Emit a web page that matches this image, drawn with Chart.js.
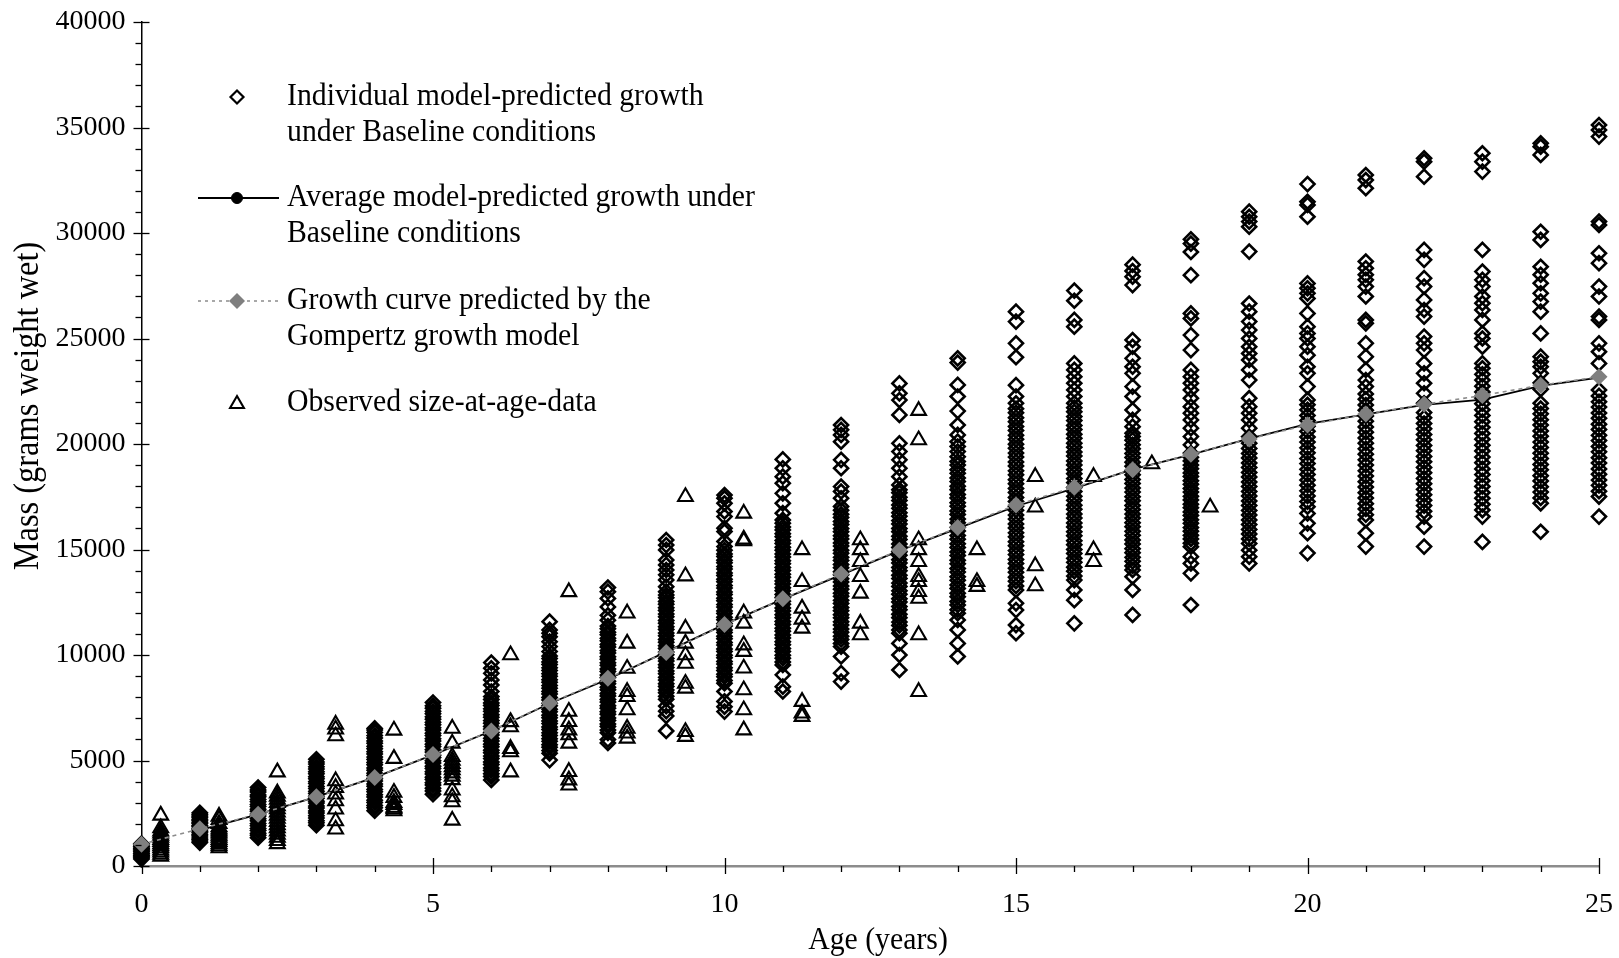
<!DOCTYPE html>
<html>
<head>
<meta charset="utf-8">
<title>Model-predicted growth and observed size-at-age</title>
<script src="https://cdn.jsdelivr.net/npm/chart.js@4.4.1/dist/chart.umd.min.js"></script>
<style>
  html, body { margin: 0; padding: 0; background: #fff; }
  canvas { display: block; }
</style>
</head>
<body>
<canvas id="growthChart" width="1619" height="958"></canvas>
<script>
// ages of the model output (years)
const ages = [0, 1, 2, 3, 4, 5, 6, 7, 8, 9, 10, 11, 12, 13, 14, 15, 16, 17, 18, 19, 20, 21, 22, 23, 24, 25];

// average model-predicted growth (starts at age 1)
const averageAges = [1, 2, 3, 4, 5, 6, 7, 8, 9, 10, 11, 12, 13, 14, 15, 16, 17, 18, 19, 20, 21, 22, 23, 24, 25];
const averageMass = [1700, 2450, 3280, 4200, 5270, 6400, 7700, 8850, 10150, 11450, 12650, 13800, 14950, 16000,
  17050, 17900, 18800, 19500, 20250, 20950, 21400, 21850, 22100, 22750, 23150];

// Gompertz growth curve
const gompertzMass = [1030, 1760, 2450, 3280, 4200, 5280, 6400, 7720, 8900, 10120, 11440, 12660, 13840, 14960,
  16040, 17110, 17950, 18780, 19520, 20240, 20900, 21420, 21880, 22300, 22780, 23190];

// individual model-predicted masses, one list per age in `ages`
const individualMass = [
  [330, 390, 460, 500, 570, 610, 680, 720, 790, 830, 900, 940, 1010, 1060],
  [1110, 1180, 1260, 1330, 1420, 1480, 1570, 1630, 1710, 1780, 1860, 1920, 2010, 2070, 2150, 2220, 2310, 2370, 2450, 2520],
  [1340, 1460, 1550, 1680, 1780, 1910, 2010, 2140, 2240, 2370, 2460, 2600, 2690, 2820, 2920, 3050, 3150, 3280, 3370, 3510, 3600, 3720],
  [1930, 2050, 2150, 2280, 2380, 2510, 2610, 2750, 2840, 2980, 3070, 3210, 3310, 3440, 3540, 3670, 3770, 3910, 4000, 4140,
    4230, 4370, 4470, 4600, 4700, 4830, 4930, 5060],
  [2620, 2760, 2870, 3010, 3120, 3270, 3380, 3520, 3630, 3780, 3890, 4030, 4140, 4290, 4400, 4540, 4650, 4800, 4910, 5050,
    5160, 5310, 5420, 5560, 5670, 5820, 5930, 6070, 6180, 6330, 6440, 6520],
  [3400, 3560, 3690, 3840, 3950, 4100, 4210, 4360, 4470, 4620, 4730, 4880, 4990, 5140, 5250, 5400, 5510, 5660, 5770, 5920,
    6030, 6180, 6290, 6440, 6550, 6700, 6810, 6960, 7070, 7220, 7330, 7480, 7590, 7750],
  [4080, 4240, 4370, 4530, 4650, 4810, 4930, 5090, 5210, 5370, 5490, 5650, 5770, 5930, 6050, 6210, 6330, 6490, 6610, 6770,
    6890, 7050, 7170, 7330, 7450, 7610, 7730, 7890, 8030, 8270, 8580, 8820, 9130, 9370, 9640],
  [5020, 5340, 5470, 5630, 5750, 5910, 6030, 6190, 6310, 6470, 6590, 6750, 6870, 7030, 7150, 7310, 7430, 7590, 7710, 7870,
    7990, 8150, 8270, 8430, 8550, 8710, 8830, 8990, 9110, 9270, 9390, 9550, 9670, 9830, 9950, 10160, 10400, 10630, 10870,
    11030, 11190, 11580],
  [5830, 5990, 6310, 6440, 6610, 6730, 6900, 7020, 7190, 7310, 7480, 7600, 7770, 7890, 8060, 8180, 8350, 8470, 8640, 8760,
    8930, 9050, 9220, 9340, 9510, 9630, 9800, 9920, 10090, 10210, 10380, 10500, 10670, 10790, 10960, 11080, 11250, 11370,
    11650, 11880, 12280, 12680, 13000, 13200],
  [6400, 7110, 7340, 7580, 7900, 8040, 8210, 8340, 8510, 8640, 8810, 8940, 9110, 9240, 9410, 9540, 9710, 9840, 10010, 10140,
    10310, 10440, 10610, 10740, 10910, 11040, 11210, 11340, 11510, 11640, 11810, 11940, 12110, 12240, 12410, 12540, 12710,
    12840, 13000, 13240, 13560, 13800, 14030, 14270, 14500, 14980, 15210, 15450],
  [7320, 7550, 7800, 8270, 8660, 8790, 8970, 9090, 9270, 9390, 9570, 9690, 9870, 9990, 10170, 10290, 10470, 10590, 10770,
    10890, 11070, 11190, 11370, 11490, 11670, 11790, 11970, 12090, 12270, 12390, 12570, 12690, 12870, 12990, 13170, 13290,
    13470, 13590, 13770, 13890, 14070, 14190, 14370, 14490, 14670, 14790, 14970, 15140, 15380, 15850, 16010, 16560, 16800,
    17190, 17430, 17580],
  [8270, 8500, 9060, 9530, 9670, 9850, 9990, 10170, 10310, 10490, 10630, 10810, 10950, 11130, 11270, 11450, 11590, 11770,
    11910, 12090, 12230, 12410, 12550, 12730, 12870, 13050, 13190, 13370, 13510, 13690, 13830, 14010, 14150, 14330, 14470,
    14650, 14790, 14970, 15110, 15290, 15430, 15610, 15750, 15930, 16070, 16250, 16400, 16720, 17190, 17660, 18140, 18450,
    18850, 19270],
  [8740, 9140, 9930, 10400, 10550, 10740, 10890, 11080, 11230, 11420, 11570, 11760, 11910, 12100, 12250, 12440, 12590, 12780,
    12930, 13120, 13270, 13460, 13610, 13800, 13950, 14140, 14290, 14480, 14630, 14820, 14970, 15160, 15310, 15500, 15650,
    15840, 15990, 16180, 16330, 16520, 16670, 16860, 17040, 17430, 17750, 17980, 18850, 19250, 20110, 20430, 20670, 20900],
  [9290, 10000, 10550, 11030, 11190, 11400, 11560, 11770, 11930, 12140, 12300, 12510, 12670, 12880, 13040, 13250, 13410,
    13620, 13780, 13990, 14150, 14360, 14520, 14730, 14890, 15100, 15260, 15470, 15630, 15840, 16000, 16210, 16370, 16580,
    16740, 16950, 17110, 17320, 17480, 17690, 17830, 18060, 18450, 18850, 19250, 19640, 20030, 21380, 22080, 22400, 22870],
  [9930, 10550, 11190, 11660, 11980, 12150, 12370, 12540, 12760, 12930, 13150, 13320, 13540, 13710, 13930, 14100, 14320,
    14490, 14710, 14880, 15100, 15270, 15490, 15660, 15880, 16050, 16270, 16440, 16660, 16830, 17050, 17220, 17440, 17610,
    17830, 18000, 18220, 18390, 18610, 18780, 19000, 19170, 19400, 19640, 19880, 20110, 20430, 20900, 21560, 22250, 22800,
    23860, 24060],
  [11030, 11420, 12130, 12450, 13080, 13270, 13500, 13690, 13920, 14110, 14340, 14530, 14760, 14950, 15180, 15370, 15600,
    15790, 16020, 16210, 16440, 16630, 16860, 17050, 17280, 17470, 17700, 17890, 18120, 18310, 18540, 18730, 18960, 19150,
    19380, 19570, 19800, 19990, 20220, 20410, 20640, 20830, 21060, 21250, 21480, 21670, 21930, 22250, 22790, 24110, 24770,
    25800, 26270],
  [11500, 12600, 13080, 13550, 13740, 13970, 14160, 14390, 14580, 14810, 15000, 15230, 15420, 15650, 15840, 16070, 16260,
    16490, 16680, 16910, 17100, 17330, 17520, 17750, 17940, 18170, 18360, 18590, 18780, 19010, 19200, 19430, 19620, 19850,
    20040, 20270, 20460, 20690, 20880, 21110, 21300, 21530, 21720, 21930, 22250, 22560, 22880, 23190, 23510, 23820, 25560,
    25880, 26790, 27270],
  [11900, 13080, 13710, 14030, 14220, 14440, 14630, 14850, 15040, 15260, 15450, 15670, 15860, 16080, 16270, 16490, 16680,
    16900, 17090, 17310, 17500, 17720, 17910, 18130, 18320, 18540, 18730, 18950, 19140, 19360, 19550, 19770, 19960, 20180,
    20350, 20510, 20820, 21140, 21610, 22250, 22720, 23350, 23660, 24060, 24610, 24930, 27530, 27930, 28200, 28500],
  [12370, 13870, 14340, 14660, 15130, 15300, 15500, 15670, 15870, 16040, 16240, 16410, 16610, 16780, 16980, 17150, 17350,
    17520, 17720, 17890, 18090, 18260, 18460, 18630, 18830, 19000, 19200, 19370, 19570, 19960, 20350, 20750, 21140, 21460,
    21770, 22170, 22560, 22880, 23190, 23510, 24450, 25160, 25950, 26190, 28000, 29100, 29500, 29700],
  [14340, 14660, 14970, 15290, 15500, 15740, 15950, 16190, 16400, 16640, 16850, 17090, 17300, 17540, 17750, 17990, 18200,
    18440, 18650, 18890, 19100, 19340, 19550, 19790, 20040, 20350, 20750, 21140, 21460, 21770, 22170, 23030, 23510, 23980,
    24290, 24610, 25000, 25400, 25800, 26270, 26660, 29120, 30300, 30540, 30770, 31010],
  [14830, 15770, 16240, 16710, 17030, 17270, 17540, 17780, 18050, 18290, 18560, 18800, 19070, 19310, 19580, 19820, 20090,
    20330, 20600, 20840, 21110, 21350, 21620, 21860, 22090, 22720, 23350, 23660, 24210, 24610, 25000, 25240, 25560, 26190,
    26900, 27140, 27380, 27610, 30770, 31330, 31480, 32320],
  [15140, 15770, 16400, 16650, 16920, 17170, 17440, 17690, 17960, 18210, 18480, 18730, 19000, 19250, 19520, 19770, 20040,
    20290, 20560, 20810, 21080, 21330, 21600, 21850, 22120, 22370, 22720, 23030, 23510, 24140, 24770, 25720, 25880, 26990,
    27460, 27780, 28020, 28330, 28650, 32120, 32510, 32750],
  [15140, 16080, 16560, 16810, 17080, 17330, 17600, 17850, 18120, 18370, 18640, 18890, 19160, 19410, 19680, 19930, 20200,
    20450, 20720, 20970, 21240, 21490, 21930, 22400, 22880, 23350, 23820, 24450, 24770, 25090, 26040, 26350, 26830, 27460,
    27860, 28730, 29200, 32670, 33380, 33540],
  [15360, 16560, 16870, 17140, 17430, 17700, 17990, 18260, 18550, 18820, 19110, 19380, 19670, 19940, 20230, 20500, 20790,
    21060, 21350, 21620, 21910, 22180, 22470, 22740, 23030, 23300, 23590, 23820, 24610, 25000, 25240, 25880, 26350, 26670,
    26990, 27460, 27780, 28170, 29200, 32910, 33380, 33780],
  [15840, 17190, 17440, 17720, 17970, 18250, 18500, 18780, 19030, 19310, 19560, 19840, 20090, 20370, 20620, 20900, 21150,
    21430, 21680, 21930, 22600, 22900, 23350, 23660, 23900, 24140, 25240, 26270, 26750, 27140, 27620, 28020, 28400, 29670,
    30060, 33700, 34090, 34250],
  [16560, 17510, 17760, 18040, 18290, 18570, 18820, 19100, 19350, 19630, 19880, 20160, 20410, 20690, 20940, 21220, 21470,
    21750, 22000, 22280, 22560, 23820, 24370, 24770, 25880, 26040, 26990, 27460, 28570, 29040, 30380, 30540, 34570, 34880,
    35120]
];

// observed size-at-age data, plotted a third of a year after each age class
const observedAges = [0.33, 1.33, 2.33, 3.33, 4.33, 5.33, 6.33, 7.33, 8.33, 9.33, 10.33, 11.33, 12.33, 13.33, 14.33,
  15.33, 16.33, 17.33, 18.33];
const observedMass = [
  [450, 550, 650, 750, 850, 950, 1050, 1150, 1250, 1350, 1450, 1550, 1650, 1800, 2400],
  [850, 950, 1050, 1150, 1250, 1350, 1450, 1550, 1650, 1750, 1850, 2000, 2200, 2350],
  [1050, 1200, 1350, 1500, 1650, 1800, 1950, 2100, 2250, 2400, 2550, 2700, 2850, 3000, 3150, 3300, 3450, 4450],
  [1740, 2130, 2690, 3080, 3400, 3710, 4030, 6160, 6480, 6710],
  [2610, 2700, 2770, 2900, 3000, 3240, 3480, 5090, 6430],
  [2160, 3030, 3270, 3590, 4080, 4250, 4400, 4550, 4700, 4850, 5000, 5180, 5810, 6520],
  [4450, 5400, 5560, 6590, 6830, 10000],
  [3830, 4070, 4470, 5810, 6210, 6440, 6840, 7320, 12990],
  [6050, 6290, 6520, 7390, 8020, 8260, 9360, 10550, 11980],
  [6130, 6360, 8420, 8650, 9600, 10000, 10550, 11260, 13740, 17500],
  [6440, 7390, 8340, 9370, 10160, 10470, 11500, 11980, 15400, 15480, 16710],
  [7080, 7240, 7790, 11260, 11690, 12210, 13470, 14980],
  [10950, 11500, 12920, 13710, 14420, 14980, 15450],
  [8260, 10950, 12680, 13000, 13470, 13710, 14420, 14980, 15450, 20190, 21580],
  [13240, 13470, 14980],
  [13270, 14220, 17000, 18450],
  [14420, 14980, 18450],
  [19050],
  [17000]
];

// axis tick labels
const xTickValues = [0, 5, 10, 15, 20, 25];
const yTickValues = [0, 5000, 10000, 15000, 20000, 25000, 30000, 35000, 40000];

const serif = '"Liberation Serif", "Times New Roman", serif';

let individualPoints = [];
individualMass.forEach((list, i) => {
  list.forEach((m) => individualPoints.push({ x: ages[i], y: m }));
});

let observedPoints = [];
observedMass.forEach((list, i) => {
  list.forEach((m) => observedPoints.push({ x: observedAges[i], y: m }));
});

const averagePoints = averageAges.map((a, i) => ({ x: a, y: averageMass[i] }));
const gompertzPoints = ages.map((a, i) => ({ x: a, y: gompertzMass[i] }));

const legendEntries = [
  { lines: ["Individual model-predicted growth", "under Baseline conditions"], y: 97, mark: "diamond" },
  { lines: ["Average model-predicted growth under", "Baseline conditions"], y: 198, mark: "average" },
  { lines: ["Growth curve predicted by the", "Gompertz growth model"], y: 301, mark: "gompertz" },
  { lines: ["Observed size-at-age-data"], y: 403, mark: "triangle" }
];

function mark(ctx, style, radius, x, y, fill, stroke, width) {
  ctx.fillStyle = fill;
  ctx.strokeStyle = stroke;
  ctx.lineWidth = width;
  Chart.helpers.drawPoint(ctx, { pointStyle: style, radius: radius, borderWidth: width, rotation: 0 }, x, y);
}

// the source figure is a little narrower than tall, so text is squeezed sideways
function squeezedText(ctx, text, x, y, squeeze) {
  ctx.save();
  ctx.translate(x, y);
  ctx.scale(squeeze, 1);
  ctx.fillText(text, 0, 0);
  ctx.restore();
}

// ticks, axis titles and the legend box
const decorations = {
  id: "decorations",
  afterDraw(chart) {
    const { ctx, chartArea, scales } = chart;
    const x = scales.x, y = scales.y;
    ctx.save();

    // y ticks: long ones cross the axis, short ones point out
    ctx.strokeStyle = "#000";
    ctx.lineWidth = 1.3;
    for (let v = 0; v <= 40000; v += 1000) {
      const py = Math.round(y.getPixelForValue(v)) + 0.5;
      const major = v % 5000 === 0;
      ctx.beginPath();
      ctx.moveTo(chartArea.left - (major ? 8 : 6), py);
      ctx.lineTo(chartArea.left + (major ? 8 : 0), py);
      ctx.stroke();
    }
    // x ticks
    for (let a = 0; a <= 25; a++) {
      const px = Math.round(x.getPixelForValue(a)) + 0.5;
      const major = a % 5 === 0;
      ctx.beginPath();
      ctx.moveTo(px, chartArea.bottom - (major ? 8 : 0));
      ctx.lineTo(px, chartArea.bottom + (major ? 8 : 6));
      ctx.stroke();
    }

    // axis titles
    ctx.fillStyle = "#000";
    ctx.textAlign = "center";
    ctx.textBaseline = "middle";
    ctx.font = "32px " + serif;
    squeezedText(ctx, "Age (years)", 878, 941, 0.93);
    ctx.save();
    ctx.translate(29, 406);
    ctx.rotate(-Math.PI / 2);
    ctx.font = "36px " + serif;
    squeezedText(ctx, "Mass (grams weight wet)", 0, 0, 0.9);
    ctx.restore();

    // legend
    const markX = 237;
    legendEntries.forEach((entry) => {
      if (entry.mark === "diamond") {
        mark(ctx, "rectRot", 6.5, markX, entry.y, "rgba(0,0,0,0)", "#000", 2.2);
      } else if (entry.mark === "average") {
        ctx.strokeStyle = "#000";
        ctx.lineWidth = 1.8;
        ctx.beginPath();
        ctx.moveTo(198, entry.y);
        ctx.lineTo(279, entry.y);
        ctx.stroke();
        mark(ctx, "circle", 5.5, markX, entry.y, "#000", "#000", 1);
      } else if (entry.mark === "gompertz") {
        ctx.strokeStyle = "#8c8c8c";
        ctx.lineWidth = 1.6;
        ctx.setLineDash([3, 4]);
        ctx.beginPath();
        ctx.moveTo(198, entry.y);
        ctx.lineTo(279, entry.y);
        ctx.stroke();
        ctx.setLineDash([]);
        mark(ctx, "rectRot", 8, markX, entry.y, "#7f7f7f", "#7f7f7f", 0);
      } else {
        mark(ctx, "triangle", 8, markX, entry.y + 1, "rgba(0,0,0,0)", "#000", 2.1);
      }
      ctx.fillStyle = "#000";
      ctx.font = "32px " + serif;
      ctx.textAlign = "left";
      ctx.textBaseline = "middle";
      entry.lines.forEach((line, i) => {
        squeezedText(ctx, line, 287, entry.y + i * 36, 0.93);
      });
    });

    ctx.restore();
  }
};

const growthChart = new Chart(document.getElementById("growthChart"), {
  type: "scatter",
  data: {
    datasets: [
      {
        label: "Growth curve predicted by the Gompertz growth model",
        data: gompertzPoints,
        showLine: true,
        order: 0,
        borderColor: "#8c8c8c",
        borderWidth: 1.6,
        borderDash: [4, 4],
        pointStyle: "rectRot",
        pointRadius: 8.5,
        pointBackgroundColor: "#7f7f7f",
        pointBorderWidth: 0,
        clip: false
      },
      {
        label: "Average model-predicted growth under Baseline conditions",
        data: averagePoints,
        showLine: true,
        order: 1,
        borderColor: "#000",
        borderWidth: 1.8,
        pointRadius: 4.5,
        pointBackgroundColor: "#000",
        pointBorderWidth: 0,
        clip: false
      },
      {
        label: "Individual model-predicted growth under Baseline conditions",
        data: individualPoints,
        order: 2,
        pointStyle: "rectRot",
        pointRadius: 7,
        pointBorderWidth: 2.6,
        pointBorderColor: "#000",
        pointBackgroundColor: "rgba(0,0,0,0)",
        clip: false
      },
      {
        label: "Observed size-at-age-data",
        data: observedPoints,
        order: 3,
        pointStyle: "triangle",
        pointRadius: 8.5,
        pointBorderWidth: 2.1,
        pointBorderColor: "#000",
        pointBackgroundColor: "rgba(0,0,0,0)",
        clip: false
      }
    ]
  },
  options: {
    responsive: false,
    animation: false,
    devicePixelRatio: 1,
    layout: { autoPadding: false, padding: { top: 22, right: 20, bottom: 0, left: 0 } },
    plugins: {
      legend: { display: false },
      tooltip: { enabled: false }
    },
    scales: {
      x: {
        type: "linear",
        min: 0,
        max: 25,
        afterBuildTicks: (scale) => { scale.ticks = xTickValues.map((v) => ({ value: v })); },
        afterFit: (scale) => {
          scale.height = 92;
          scale.paddingLeft = 0;
          scale.paddingRight = 0;
        },
        ticks: { font: { family: serif, size: 28 }, color: "#000", padding: 22, maxRotation: 0 },
        grid: { display: false, drawTicks: false },
        border: { color: "#8c8c8c", width: 2.5 }
      },
      y: {
        type: "linear",
        min: 0,
        max: 40000,
        afterBuildTicks: (scale) => { scale.ticks = yTickValues.map((v) => ({ value: v })); },
        afterFit: (scale) => {
          scale.width = 141.5;
          scale.paddingTop = 0;
          scale.paddingBottom = 0;
        },
        ticks: { font: { family: serif, size: 28 }, color: "#000", padding: 16, callback: (v) => String(v) },
        grid: { display: false, drawTicks: false },
        border: { color: "#000", width: 1.5 }
      }
    }
  },
  plugins: [decorations]
});
</script>
</body>
</html>
